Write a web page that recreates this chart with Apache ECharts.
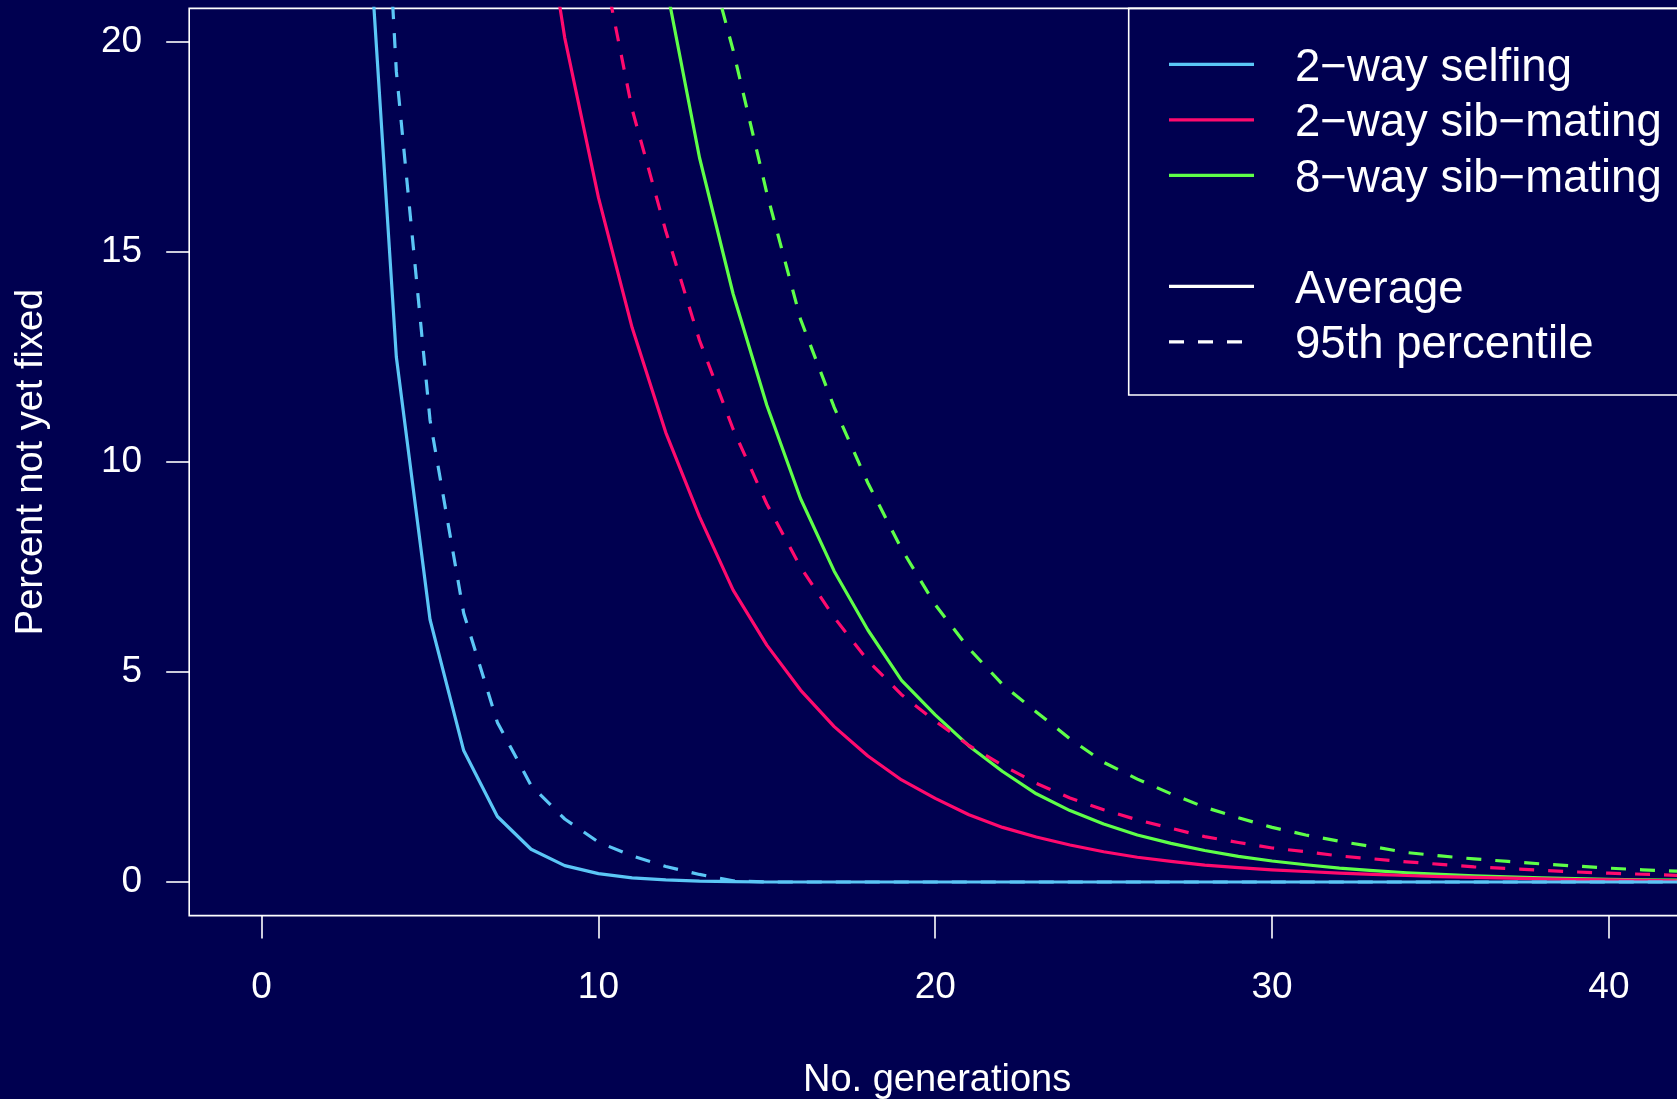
<!DOCTYPE html>
<html>
<head>
<meta charset="utf-8">
<script src="https://cdn.jsdelivr.net/npm/echarts@6/dist/echarts.min.js"></script>
<style>
  html, body { margin: 0; padding: 0; background: #000050; }
  #chart { width: 1677px; height: 1099px; }
</style>
</head>
<body>
<div id="chart"></div>
<script>
// ---- data ----
const generations = [3,4,5,6,7,8,9,10,11,12,13,14,15,16,17,18,19,20,21,22,23,24,25,26,27,28,29,30,31,32,33,34,35,36,37,38,39,40,41,42,43];

const selfingAvg = [25,12.5,6.25,3.13,1.56,0.78,0.39,0.2,0.1,0.05,0.02,0.01,
  0,0,0,0,0,0,0,0,0,0,0,0,0,0,0,0,0,0,0,0,0,0,0,0,0,0,0,0,0];
const selfingP95 = [34,19.3,11.0,6.4,3.8,2.3,1.5,0.95,0.62,0.37,0.18,0.03,
  0,0,0,0,0,0,0,0,0,0,0,0,0,0,0,0,0,0,0,0,0,0,0,0,0,0,0,0,0];
const sib2Avg = [null,null,null,null,null,
  25.2,20.1,16.3,13.2,10.7,8.7,6.95,5.64,4.57,3.7,
  3.0,2.43,1.99,1.6,1.3,1.07,0.88,0.72,0.59,0.49,
  0.40,0.34,0.29,0.25,0.21,0.18,0.155,0.13,0.11,0.09,
  0.075,0.06,0.05,0.04,0.03,0.025];
const sib2P95 = [null,null,null,null,null,null,null,
  22.4,18.4,15.5,12.9,10.78,9.0,7.5,6.3,5.27,4.46,
  3.83,3.25,2.78,2.35,2.0,1.72,1.48,1.28,1.08,0.94,
  0.81,0.72,0.62,0.55,0.48,0.42,0.36,0.32,0.28,0.24,
  0.21,0.185,0.16,0.14];
const sib8Avg = [null,null,null,null,null,null,null,null,
  26.5,21.4,17.25,14.0,11.35,9.13,7.4,6.0,4.8,3.98,
  3.24,2.63,2.10,1.70,1.38,1.12,0.92,0.75,0.61,0.50,
  0.41,0.33,0.27,0.22,0.18,0.145,0.12,0.097,0.08,0.065,
  0.053,0.043,0.035];
const sib8P95 = [null,null,null,null,null,null,null,null,null,null,
  22.8,19.8,16.4,13.4,11.3,9.5,7.93,6.6,
  5.56,4.7,4.05,3.41,2.85,2.45,2.1,1.78,1.53,1.3,
  1.12,0.97,0.84,0.70,0.62,0.55,0.49,0.43,0.38,0.33,
  0.29,0.26,0.24];

const xTicks = [0, 10, 20, 30, 40];
const yTicks = [0, 5, 10, 15, 20];
const groupNames = ['2\u2212way selfing', '2\u2212way sib\u2212mating', '8\u2212way sib\u2212mating'];
const styleNames = ['Average', '95th percentile'];

// ---- styling ----
const BG = '#000050';
const FG = '#ffffff';
const COLORS = { self: '#5BC6F6', sib2: '#FF0A6E', sib8: '#5EFF48' };
const FONT = '"Liberation Sans", Arial, Helvetica, sans-serif';
const DASH = [15, 14];

function pairs(vals) {
  const out = [];
  for (let i = 0; i < generations.length; i++) {
    if (vals[i] !== null && vals[i] !== undefined) out.push([generations[i], vals[i]]);
  }
  return out;
}
function lineSeries(name, vals, color, dashed) {
  return {
    name: name, type: 'line', data: pairs(vals),
    showSymbol: false, symbol: 'none', clip: true, smooth: false,
    lineStyle: { color: color, width: 3.2, type: dashed ? DASH : 'solid', cap: 'butt', join: 'round' },
    emphasis: { disabled: true }, silent: true
  };
}

// ---- legend (drawn as graphics) ----
const legendX0 = 1169, legendX1 = 1254, legendTextX = 1295;
const rowY = [64.3, 119.8, 175.3, 286.3, 341.8];
const legendItems = [
  { text: groupNames[0], color: COLORS.self, dashed: false },
  { text: groupNames[1], color: COLORS.sib2, dashed: false },
  { text: groupNames[2], color: COLORS.sib8, dashed: false },
  { text: styleNames[0], color: FG, dashed: false },
  { text: styleNames[1], color: FG, dashed: true }
];
const graphics = [{
  type: 'rect', silent: true,
  shape: { x: 1128.7, y: 8.4, width: 1685 - 1128.7, height: 395 - 8.4 },
  style: { fill: 'none', stroke: FG, lineWidth: 1.6 }
}];
legendItems.forEach((it, i) => {
  graphics.push({
    type: 'line', silent: true,
    shape: { x1: legendX0, y1: rowY[i], x2: legendX1, y2: rowY[i] },
    style: { stroke: it.color, lineWidth: 3.2, lineDash: it.dashed ? DASH : null, lineCap: 'butt' }
  });
  graphics.push({
    type: 'text', silent: true, x: legendTextX, y: rowY[i] + 4,
    style: { text: it.text, fill: FG, font: '45.5px ' + FONT, textAlign: 'left', textVerticalAlign: 'middle' }
  });
});

const chart = echarts.init(document.getElementById('chart'), null, { renderer: 'canvas' });
chart.setOption({
  backgroundColor: BG,
  animation: false,
  textStyle: { fontFamily: FONT },
  grid: {
    left: 189.2, top: 8.4, width: 1495.8, height: 907.2,
    show: true, borderColor: FG, borderWidth: 1.6, backgroundColor: 'transparent',
    containLabel: false, outerBoundsMode: 'none'
  },
  xAxis: {
    type: 'value', min: -2.15, max: 42.26,
    name: 'No. generations', nameLocation: 'middle', nameGap: 146,
    nameTextStyle: { color: FG, fontSize: 38, fontFamily: FONT },
    axisLine: { show: false, onZero: false },
    splitLine: { show: false },
    axisTick: { show: true, inside: false, length: 23, customValues: xTicks, lineStyle: { color: FG, width: 1.6 } },
    axisLabel: { show: true, customValues: xTicks, color: FG, fontSize: 37, fontFamily: FONT, margin: 72, verticalAlign: 'middle' }
  },
  yAxis: {
    type: 'value', min: -0.8, max: 20.8,
    name: 'Percent not yet fixed', nameLocation: 'middle', nameGap: 139, nameRotate: 90,
    nameTextStyle: { color: FG, fontSize: 38, fontFamily: FONT },
    axisLine: { show: false, onZero: false },
    splitLine: { show: false },
    axisTick: { show: true, inside: false, length: 23, customValues: yTicks, lineStyle: { color: FG, width: 1.6 } },
    axisLabel: { show: true, customValues: yTicks, color: FG, fontSize: 37, fontFamily: FONT, margin: 47, align: 'right', verticalAlign: 'middle', padding: [8, 0, 0, 0] }
  },
  series: [
    lineSeries('8-way sib-mating 95th', sib8P95, COLORS.sib8, true),
    lineSeries('8-way sib-mating avg', sib8Avg, COLORS.sib8, false),
    lineSeries('2-way sib-mating 95th', sib2P95, COLORS.sib2, true),
    lineSeries('2-way sib-mating avg', sib2Avg, COLORS.sib2, false),
    lineSeries('2-way selfing 95th', selfingP95, COLORS.self, true),
    lineSeries('2-way selfing avg', selfingAvg, COLORS.self, false)
  ],
  graphic: graphics
});
</script>
</body>
</html>
